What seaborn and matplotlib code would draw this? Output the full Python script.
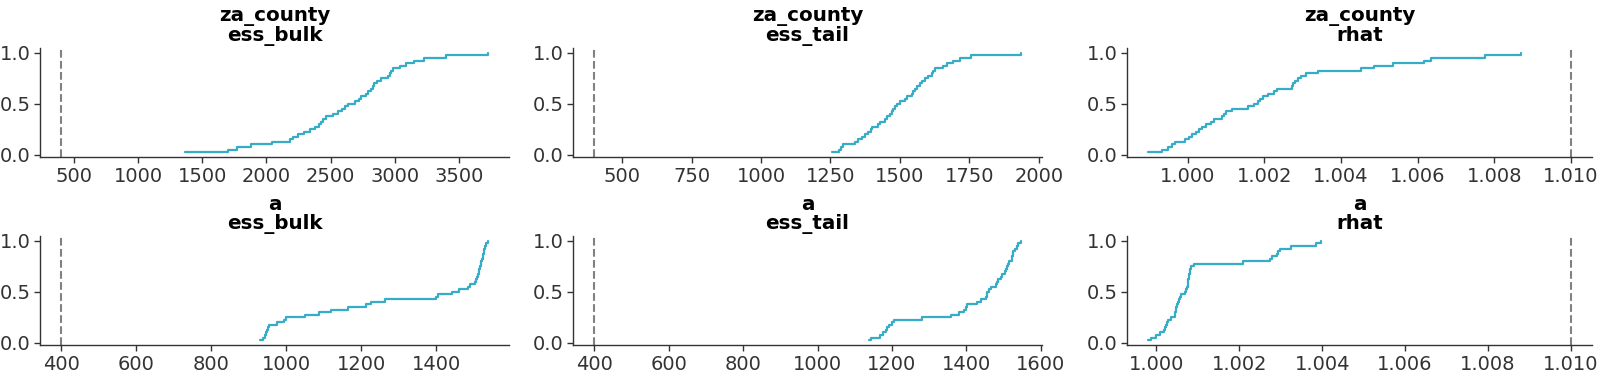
import numpy as np
import pandas as pd
import matplotlib
matplotlib.use("Agg")
import matplotlib.pyplot as plt
from matplotlib.ticker import MultipleLocator
import seaborn as sns

# ---- data (sorted diagnostic values) ----
variables = ["za_county", "a"]
diagnostics = ["ess_bulk", "ess_tail", "rhat"]
thresholds = [400, 400, 1.01]

za_county_ess_bulk = [1365, 1700, 1770, 1880, 2040, 2180, 2205, 2245, 2295, 2340,
                      2375, 2410, 2422, 2440, 2462, 2515, 2555, 2585, 2615, 2635,
                      2690, 2718, 2740, 2775, 2795, 2815, 2828, 2840, 2860, 2890,
                      2950, 2960, 2968, 2990, 3040, 3085, 3150, 3225, 3400, 3725]
za_county_ess_tail = [1255, 1280, 1288, 1294, 1340, 1350, 1364, 1374, 1385, 1396,
                      1400, 1422, 1428, 1446, 1455, 1464, 1470, 1476, 1482, 1488,
                      1500, 1520, 1525, 1542, 1548, 1554, 1563, 1572, 1581, 1590,
                      1600, 1614, 1620, 1628, 1654, 1668, 1690, 1716, 1755, 1935]
za_county_rhat = [0.99897, 0.99933, 0.99950, 0.99958, 0.99966, 0.99992, 1.00003, 1.00012,
                  1.00023, 1.00030, 1.00038, 1.00047, 1.00060, 1.00069, 1.00091, 1.00094,
                  1.00100, 1.00116, 1.00158, 1.00172, 1.00184, 1.00190, 1.00197, 1.00210,
                  1.00225, 1.00232, 1.00272, 1.00275, 1.00280, 1.00288, 1.00295, 1.00309,
                  1.00340, 1.00452, 1.00486, 1.00536, 1.00618, 1.00635, 1.00775, 1.00871]
a_ess_bulk = [931, 939, 943, 946, 949, 951, 954, 975, 994, 998,
              1050, 1088, 1118, 1165, 1212, 1226, 1262, 1398, 1405, 1443,
              1461, 1484, 1490, 1502, 1505, 1508, 1511, 1513, 1515, 1517,
              1518, 1520, 1522, 1524, 1525, 1526, 1528, 1530, 1533, 1537]
a_ess_tail = [1138, 1145, 1168, 1176, 1184, 1188, 1192, 1200, 1205, 1282,
              1360, 1380, 1394, 1398, 1402, 1428, 1438, 1452, 1455, 1456,
              1462, 1466, 1480, 1483, 1484, 1492, 1495, 1504, 1506, 1510,
              1513, 1515, 1522, 1524, 1525, 1526, 1530, 1535, 1540, 1546]
a_rhat = [0.99980, 0.99988, 1.00000, 1.00008, 1.00018, 1.00020, 1.00024, 1.00026,
          1.00029, 1.00036, 1.00044, 1.00046, 1.00047, 1.00048, 1.00050, 1.00052,
          1.00055, 1.00058, 1.00060, 1.00068, 1.00071, 1.00074, 1.00075, 1.00076,
          1.00077, 1.00078, 1.00079, 1.00080, 1.00082, 1.00084, 1.00090, 1.00210,
          1.00275, 1.00280, 1.00291, 1.00294, 1.00298, 1.00325, 1.00386, 1.00397]

series = {
    ("za_county", "ess_bulk"): za_county_ess_bulk,
    ("za_county", "ess_tail"): za_county_ess_tail,
    ("za_county", "rhat"): za_county_rhat,
    ("a", "ess_bulk"): a_ess_bulk,
    ("a", "ess_tail"): a_ess_tail,
    ("a", "rhat"): a_rhat,
}

rows = []
for (var, diag), vals in series.items():
    v = np.sort(np.asarray(vals, dtype=float))
    n = len(v)
    for i, x in enumerate(v):
        rows.append({"var": var, "diag": diag, "value": x, "ecdf": (i + 1) / n})
df = pd.DataFrame(rows)

# ---- style ----
sns.set_theme(style="ticks")
plt.rcParams["font.family"] = ["DejaVu Sans"]
plt.rcParams.update({
    "axes.edgecolor": "#333333",
    "xtick.color": "#333333",
    "ytick.color": "#333333",
    "xtick.labelcolor": "#333333",
    "ytick.labelcolor": "#333333",
    "axes.linewidth": 1.0,
})

line_color = "#36acc6"
W, H = 1620, 376
fig, axes = plt.subplots(2, 3, figsize=(W / 100, H / 100), dpi=100)

col_x = [(40, 509), (573, 1042), (1127, 1592)]
row_y = [(48, 157), (236, 345)]
tick_steps = [[500, 250, 0.002], [200, 200, 0.002]]

for r, var in enumerate(variables):
    for c, diag in enumerate(diagnostics):
        ax = axes[r, c]
        x0, x1 = col_x[c]
        t, b = row_y[r]
        ax.set_position([x0 / W, 1 - b / H, (x1 - x0) / W, (b - t) / H])
        sub = df[(df["var"] == var) & (df["diag"] == diag)]
        sns.lineplot(data=sub, x="value", y="ecdf", ax=ax, drawstyle="steps-post",
                     color=line_color, lw=1.6, estimator=None, sort=True)
        ax.axvline(thresholds[c], color="0.45", ls="--", lw=1.5, alpha=0.9)
        ax.set_yticks([0.0, 0.5, 1.0])
        ax.xaxis.set_major_locator(MultipleLocator(tick_steps[r][c]))
        ax.set_xlabel("")
        ax.set_ylabel("")
        ax.set_title(f"{var}\n{diag}", fontsize=14.3, fontweight="bold",
                     color="black", linespacing=1.0, pad=5)
        ax.tick_params(labelsize=14, length=4, width=1.0, pad=3)
        sns.despine(ax=ax)

fig.savefig("out.png", dpi=100)
